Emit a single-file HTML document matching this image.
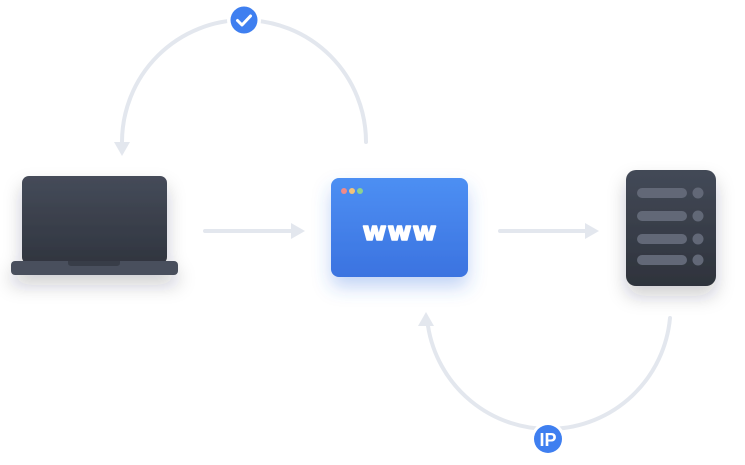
<!DOCTYPE html>
<html><head><style>
body{margin:0;width:745px;height:460px;background:#fff;overflow:hidden;font-family:"Liberation Sans",sans-serif}
</style></head><body>
<svg width="745" height="460" viewBox="0 0 745 460" xmlns="http://www.w3.org/2000/svg">
<defs>
<linearGradient id="lap" x1="0" y1="0" x2="0" y2="1"><stop offset="0" stop-color="#454b59"/><stop offset="1" stop-color="#30353f"/></linearGradient>
<linearGradient id="br" x1="0" y1="0" x2="0" y2="1"><stop offset="0" stop-color="#4d8ff3"/><stop offset="1" stop-color="#3b73e0"/></linearGradient>
<linearGradient id="sv" x1="0" y1="0" x2="0" y2="1"><stop offset="0" stop-color="#434957"/><stop offset="1" stop-color="#2e333c"/></linearGradient>
<filter id="sh" x="-30%" y="-30%" width="160%" height="180%"><feDropShadow dx="0" dy="10" stdDeviation="9" flood-color="#1e2430" flood-opacity="0.22"/></filter>
<filter id="shb" x="-30%" y="-30%" width="160%" height="180%"><feDropShadow dx="0" dy="10" stdDeviation="9" flood-color="#3b73e0" flood-opacity="0.3"/></filter>
</defs>
<g fill="none" stroke="#e3e7ee" stroke-width="4" stroke-linecap="round">
<path d="M366 142 A122 122 0 0 0 122 142 L122 146"/>
<path d="M428 326 A122 122 0 0 0 670 318"/>
<line x1="205" y1="231" x2="296" y2="231"/>
<line x1="500" y1="231" x2="590" y2="231"/>
</g>
<g fill="#e3e7ee">
<polygon points="114,142 130,142 122,156"/>
<polygon points="418,326 434,326 426,312"/>
<polygon points="291,223 291,239 305,231"/>
<polygon points="585,223 585,239 599,231"/>
</g>
<g filter="url(#sh)">
<rect x="22" y="176" width="145" height="88" rx="7" fill="url(#lap)"/>
<rect x="11" y="261" width="167" height="14" rx="4" fill="#4a505d"/>
</g>
<path d="M68 261 H120 V263 Q120 266 116 266 H72 Q68 266 68 263Z" fill="#383d48"/>
<g filter="url(#shb)"><rect x="331" y="178" width="137" height="99" rx="8" fill="url(#br)"/></g>
<circle cx="344" cy="191" r="3" fill="#f08a8a"/>
<circle cx="352" cy="191" r="3" fill="#f3c37a"/>
<circle cx="360" cy="191" r="3" fill="#8dd28f"/>
<text x="400" y="240" text-anchor="middle" font-size="26" font-weight="bold" fill="#fff" stroke="#fff" stroke-width="1.5" stroke-linejoin="round" font-family="'DejaVu Sans',sans-serif" letter-spacing="1">www</text>
<g filter="url(#sh)"><rect x="626" y="170" width="90" height="116" rx="10" fill="url(#sv)"/></g>
<g fill="#626877">
<rect x="637" y="188" width="50" height="10" rx="5"/><circle cx="698" cy="193" r="5.5"/>
<rect x="637" y="211" width="50" height="10" rx="5"/><circle cx="698" cy="216" r="5.5"/>
<rect x="637" y="234" width="50" height="10" rx="5"/><circle cx="698" cy="239" r="5.5"/>
<rect x="637" y="255" width="50" height="10" rx="5"/><circle cx="698" cy="260" r="5.5"/>
</g>
<circle cx="244" cy="20" r="17" fill="#fff"/>
<circle cx="244" cy="20" r="13.5" fill="#3f7ff0"/>
<path d="M237.5 20.5 L242 25 L250.5 16" fill="none" stroke="#fff" stroke-width="3" stroke-linecap="round" stroke-linejoin="round"/>
<circle cx="548" cy="439" r="17" fill="#fff"/>
<circle cx="548" cy="439" r="14" fill="#3f7ff0"/>
<text x="548" y="446" text-anchor="middle" font-size="18" font-weight="bold" fill="#fff">IP</text>
</svg>
</body></html>
